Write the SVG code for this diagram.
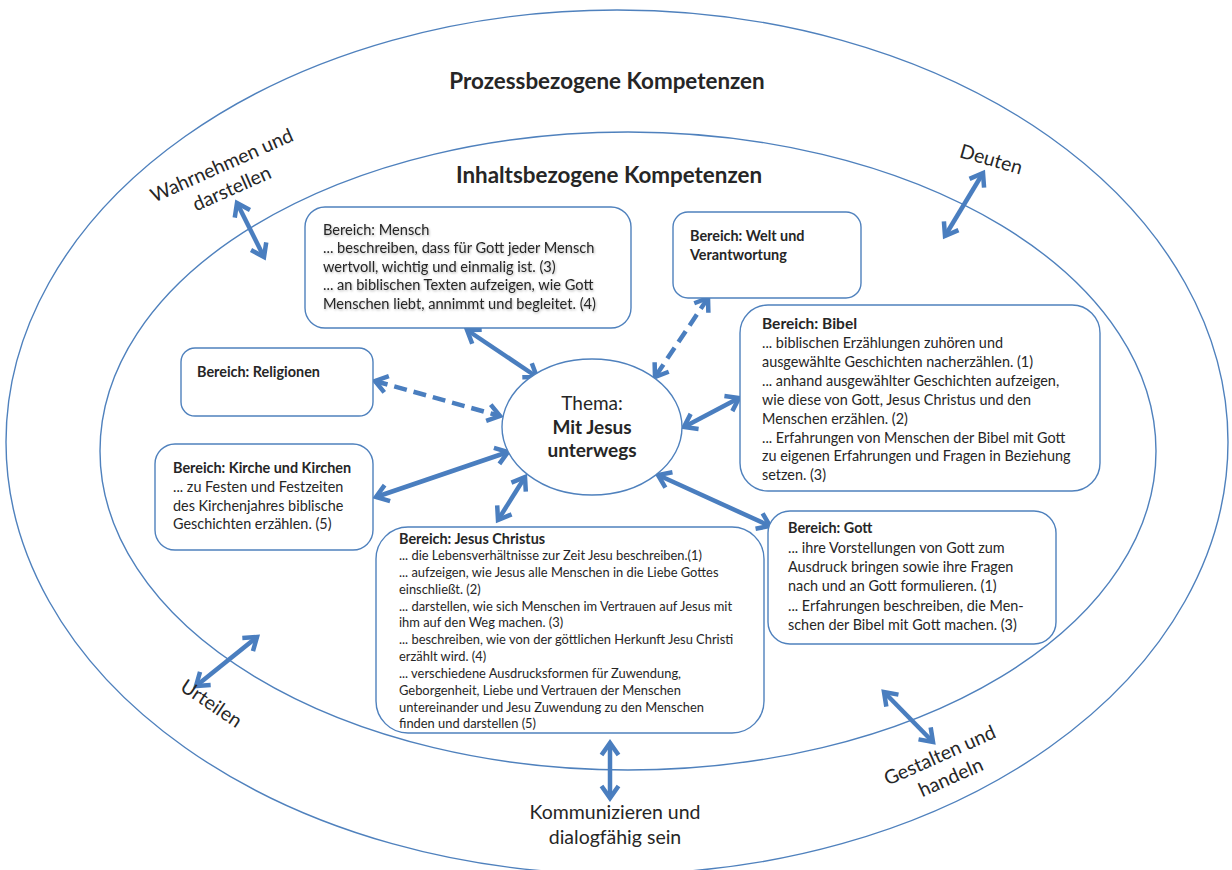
<svg xmlns="http://www.w3.org/2000/svg" width="1232" height="870" viewBox="0 0 1232 870">
<defs>
<style>
.ring{fill:none;stroke:#4F81BD;stroke-width:1.4}
.box{fill:#fff;stroke:#4F81BD;stroke-width:1.4}
.t{font-family:Lato,"Liberation Sans",sans-serif;fill:#262626}
.b{font-weight:bold}
.body{font-size:14.4px}
.small{font-size:12.9px}
.title{font-size:22.4px;font-weight:bold}
.lbl{font-size:19.5px;text-anchor:middle}
.arr{fill:none;stroke:#4A7EBF;stroke-width:4.5;marker-start:url(#hd);marker-end:url(#hd)}
.dash{stroke-dasharray:13 7}
</style>
<marker id="hd" viewBox="-16 -11 22 22" markerWidth="22" markerHeight="22" refX="0" refY="0" markerUnits="userSpaceOnUse" orient="auto-start-reverse">
<path d="M-12,-8.5 L0,0 L-12,8.5" fill="none" stroke="#4A7EBF" stroke-width="4.5"/>
</marker>
<filter id="sh" x="-5%" y="-20%" width="110%" height="140%">
<feDropShadow dx="0.8" dy="1.2" stdDeviation="1.2" flood-color="#000" flood-opacity="0.3"/>
</filter>
</defs>
<rect width="1232" height="870" fill="#fff"/>

<g id="outer">
<ellipse class="ring" cx="617" cy="442" rx="611" ry="432"/>
<text class="t title" x="607" y="89" text-anchor="middle">Prozessbezogene Kompetenzen</text>
</g>
<g id="inner">
<ellipse class="ring" cx="628" cy="451" rx="528" ry="319"/>
<text class="t title" x="609" y="183" text-anchor="middle">Inhaltsbezogene Kompetenzen</text>
</g>

<g id="connectors">
<line class="arr" x1="467" y1="330" x2="537" y2="377"/>
<line class="arr dash" x1="708" y1="298" x2="655" y2="377"/>
<line class="arr dash" x1="375" y1="381" x2="500" y2="416"/>
<line class="arr" x1="376" y1="497" x2="508" y2="452"/>
<line class="arr" x1="498" y1="520" x2="525" y2="477"/>
<line class="arr" x1="684" y1="427" x2="739" y2="398"/>
<line class="arr" x1="658" y1="475" x2="770" y2="526"/>
<line class="arr" x1="237" y1="203" x2="264" y2="257"/>
<line class="arr" x1="983" y1="173" x2="945" y2="236"/>
<line class="arr" x1="257" y1="637" x2="196" y2="686"/>
<line class="arr" x1="610" y1="743" x2="610" y2="798"/>
<line class="arr" x1="884" y1="692" x2="933" y2="742"/>
</g>

<g id="thema">
<ellipse class="box" cx="592" cy="427" rx="90" ry="68"/>
<text class="t" x="592" y="410" text-anchor="middle" font-size="19">Thema:</text>
<text class="t b" x="592" y="434" text-anchor="middle" font-size="19">Mit Jesus</text>
<text class="t b" x="592" y="457" text-anchor="middle" font-size="19">unterwegs</text>
</g>

<g id="mensch">
<rect class="box" x="305" y="207" width="326" height="121" rx="20"/>
<g class="t" font-size="14.6" filter="url(#sh)">
<text x="323" y="235">Bereich: Mensch</text>
<text x="323" y="253">... beschreiben, dass für Gott jeder Mensch</text>
<text x="323" y="272">wertvoll, wichtig und einmalig ist. (3)</text>
<text x="323" y="290">... an biblischen Texten aufzeigen, wie Gott</text>
<text x="323" y="309">Menschen liebt, annimmt und begleitet. (4)</text>
</g>
</g>

<g id="welt">
<rect class="box" x="673" y="212" width="188" height="86" rx="15"/>
<text class="t body b" x="690" y="241">Bereich: Welt und</text>
<text class="t body b" x="690" y="260">Verantwortung</text>
</g>

<g id="bibel">
<rect class="box" x="740" y="305" width="360" height="186" rx="28"/>
<g class="t body">
<text class="b" x="762" y="329" font-size="15.5">Bereich: Bibel</text>
<text x="762" y="348"> ... biblischen Erzählungen zuhören und</text>
<text x="762" y="367">ausgewählte Geschichten nacherzählen. (1)</text>
<text x="762" y="386">... anhand ausgewählter Geschichten aufzeigen,</text>
<text x="762" y="405">wie diese von Gott, Jesus Christus und den</text>
<text x="762" y="424">Menschen erzählen. (2)</text>
<text x="762" y="443">... Erfahrungen von Menschen der Bibel mit Gott</text>
<text x="762" y="461">zu eigenen Erfahrungen und Fragen in Beziehung</text>
<text x="762" y="480">setzen. (3)</text>
</g>
</g>

<g id="religionen">
<rect class="box" x="181" y="348" width="192" height="68" rx="14"/>
<text class="t body b" x="197" y="377">Bereich: Religionen</text>
</g>

<g id="kirche">
<rect class="box" x="155" y="444" width="218" height="106" rx="20"/>
<g class="t body">
<text class="b" x="173" y="473">Bereich: Kirche und Kirchen</text>
<text x="173" y="492">... zu Festen und Festzeiten</text>
<text x="173" y="511">des Kirchenjahres biblische</text>
<text x="173" y="529">Geschichten erzählen. (5)</text>
</g>
</g>

<g id="jesus">
<rect class="box" x="376" y="527" width="388" height="206" rx="32"/>
<g class="t small">
<text class="b body" x="399" y="544">Bereich: Jesus Christus</text>
<text x="399" y="560">... die Lebensverhältnisse zur Zeit Jesu beschreiben.(1)</text>
<text x="399" y="577">... aufzeigen, wie Jesus alle Menschen in die Liebe Gottes</text>
<text x="399" y="594">einschließt. (2)</text>
<text x="399" y="611">... darstellen, wie sich Menschen im Vertrauen auf Jesus mit</text>
<text x="399" y="627">ihm auf den Weg machen. (3)</text>
<text x="399" y="644">... beschreiben, wie von der göttlichen Herkunft Jesu Christi</text>
<text x="399" y="661">erzählt wird. (4)</text>
<text x="399" y="678">... verschiedene Ausdrucksformen für Zuwendung,</text>
<text x="399" y="695">Geborgenheit, Liebe und Vertrauen der Menschen</text>
<text x="399" y="712">untereinander und Jesu Zuwendung zu den Menschen</text>
<text x="399" y="728">finden und darstellen (5)</text>
</g>
</g>

<g id="gott">
<rect class="box" x="768" y="511" width="288" height="133" rx="22"/>
<g class="t body">
<text class="b" x="788" y="533">Bereich: Gott</text>
<text x="788" y="553"> ... ihre Vorstellungen von Gott zum</text>
<text x="788" y="572">Ausdruck bringen sowie ihre Fragen</text>
<text x="788" y="591">nach und an Gott formulieren. (1)</text>
<text x="788" y="611">... Erfahrungen beschreiben, die Men-</text>
<text x="788" y="630">schen der Bibel mit Gott machen. (3)</text>
</g>
</g>

<g id="wahrnehmen">
<text class="t lbl" transform="translate(222,166) rotate(-24)" y="6">Wahrnehmen und</text>
<text class="t lbl" transform="translate(232,189) rotate(-24)" y="6">darstellen</text>
</g>
<g id="deuten">
<text class="t lbl" transform="translate(991,160) rotate(16)" y="6">Deuten</text>
</g>
<g id="urteilen">
<text class="t lbl" transform="translate(211,704) rotate(34)" y="6">Urteilen</text>
</g>
<g id="kommunizieren">
<text class="t lbl" x="615" y="819">Kommunizieren und</text>
<text class="t lbl" x="615" y="844">dialogfähig sein</text>
</g>
<g id="gestalten">
<text class="t lbl" transform="translate(940,756) rotate(-24)" y="6">Gestalten und</text>
<text class="t lbl" transform="translate(951,778) rotate(-24)" y="6">handeln</text>
</g>
</svg>
